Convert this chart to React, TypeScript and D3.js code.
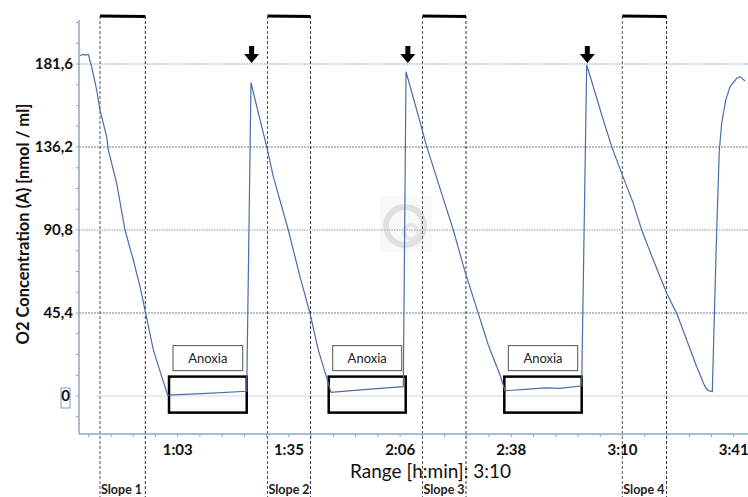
import React from 'react';
import * as d3 from 'd3';

// ---- Data (time in minutes, O2 in nmol/ml) ----
const timeMin = [
  35.44, 36.5, 37.0, 37.79, 38.76, 40.18, 41.12, 43.02, 43.48, 45.86, 48.22, 50.58, 52.49, 54.11, 56.27, 58.65, 60.36,
  71.53, 82.81, 84.03, 86.59, 88.49, 90.37, 94.63, 97.95, 100.79, 103.15, 105.71, 106.76,
  117.0, 127.31, 128.08, 132.05, 133.96, 137.74, 141.52, 144.84, 148.62, 151.46, 154.79, 156.21,
  161.89, 167.58, 171.84, 178.0, 179.42, 181.3, 184.14, 186.53, 189.37, 192.67, 195.05, 198.35, 202.16, 205.0,
  207.84, 210.68, 213.04, 213.98, 215.12, 215.69, 216.37, 217.11, 217.79, 218.93, 220.15, 222.05, 223.0, 224.41,
];
const o2Values = [
  186.3, 186.9, 186.5, 186.9, 180.1, 167.4, 156.4, 141.8, 134.6, 116.3, 90.8, 74.4, 59.8, 45.2, 25.2, 10.6, 0.5,
  1.4, 2.6, 171.4, 151.0, 136.4, 120.0, 90.8, 65.3, 45.2, 25.2, 8.8, 2.0,
  3.6, 5.1, 177.4, 150.0, 136.4, 113.6, 90.8, 68.0, 45.2, 27.9, 11.5, 2.9,
  3.6, 4.4, 4.2, 5.6, 181.1, 169.2, 151.0, 136.4, 121.8, 105.4, 90.8, 74.4, 56.2, 45.2,
  30.6, 16.0, 5.1, 2.9, 2.4, 43.4, 90.8, 134.6, 149.2, 161.9, 169.2, 173.8, 174.7, 172.3,
];

const yTickValues = [0, 45.4, 90.8, 136.2, 181.6];
const yTickLabels = ['0', '45,4', '90,8', '136,2', '181,6'];
const xTickValues = [63.2, 94.8, 126.4, 158.0, 189.6, 221.2];
const xTickLabels = ['1:03', '1:35', '2:06', '2:38', '3:10', '3:41'];

const slopeStarts = [41.12, 88.72, 132.76, 189.54];
const slopeEnds = [54.0, 100.94, 145.12, 202.1];
const slopeLabels = ['Slope 1', 'Slope 2', 'Slope 3', 'Slope 4'];

const anoxiaStarts = [60.73, 106.11, 156.01];
const anoxiaEnds = [82.81, 127.99, 178.0];
const anoxiaTop = 10.6;
const anoxiaBottom = -9.1;
const anoxiaLabel = 'Anoxia';

const arrowTimes = [84.2, 128.6, 179.6];

const xTitle = 'Range [h:min]: 3:10';
const yTitle = 'O2 Concentration (A) [nmol / ml]';

// ---- Layout ----
const W = 748;
const H = 497;
const left = 79;
const right = 748;
const top = 20;
const bottom = 434;

export default function App() {
  const x = d3.scaleLinear().domain([35.15, 225.26]).range([left, right]);
  const y = d3.scaleLinear().domain([-20.8, 205.7]).range([bottom, top]);

  const pts: [number, number][] = timeMin.map((t, i) => [t, o2Values[i]]);
  const line = d3
    .line<[number, number]>()
    .x((d) => x(d[0]))
    .y((d) => y(d[1]));

  const minorX = d3.range(37.92, 225.3, 6.32);
  const minorY = d3.range(-11.35, 205, 11.35);
  const font = 'Lato, "Open Sans", sans-serif';

  return (
    <svg
      width={W}
      height={H}
      style={{ position: 'absolute', left: 0, top: 0, background: '#fff' }}
      fontFamily={font}
    >
      <rect x={0} y={0} width={W} height={H} fill="#fff" />

      {/* watermark */}
      <rect x={380} y={196} width={52} height={56} fill="#f8f8f8" />
      <circle cx={405} cy={226} r={19} fill="none" stroke="#e0e0e0" strokeWidth={6} />
      <circle cx={411} cy={232} r={7} fill="none" stroke="#e6e6e6" strokeWidth={4} />

      {/* gridlines */}
      {yTickValues.map((v, i) =>
        v === 0 ? (
          <line key={i} x1={97} x2={right} y1={y(v)} y2={y(v)} stroke="#d6d6d6" strokeWidth={1} />
        ) : (
          <line
            key={i}
            x1={left}
            x2={right}
            y1={y(v)}
            y2={y(v)}
            stroke={i % 2 === 0 ? '#a9bcd8' : '#6b7d98'}
            strokeWidth={i % 2 === 0 ? 1.6 : 1}
            strokeDasharray={i % 2 === 0 ? '1.5,1' : '2,1'}
          />
        )
      )}

      {/* slope windows */}
      {slopeStarts.map((s, i) => (
        <g key={i}>
          <line x1={x(s)} x2={x(s)} y1={16} y2={H} stroke="#555" strokeWidth={1} strokeDasharray="3,2" />
          <line x1={x(slopeEnds[i])} x2={x(slopeEnds[i])} y1={16} y2={H} stroke="#333" strokeWidth={1} strokeDasharray="3,2" />
          <line x1={x(s)} x2={x(slopeEnds[i])} y1={16} y2={16.5} stroke="#000" strokeWidth={3} />
          <text x={x(s) + 1} y={494} fontSize={12.5} fontWeight={700} fill="#222">
            {slopeLabels[i]}
          </text>
        </g>
      ))}

      {/* anoxia boxes */}
      {anoxiaStarts.map((s, i) => (
        <g key={i}>
          <rect
            x={x(s)}
            y={y(anoxiaTop)}
            width={x(anoxiaEnds[i]) - x(s)}
            height={y(anoxiaBottom) - y(anoxiaTop)}
            fill="none"
            stroke="#000"
            strokeWidth={2.5}
          />
          <rect
            x={x(s) + 4}
            y={y(anoxiaTop) - 31}
            width={x(anoxiaEnds[i]) - x(s) - 8}
            height={25}
            fill="#fff"
            stroke="#555"
            strokeWidth={1}
          />
          <text
            x={(x(s) + x(anoxiaEnds[i])) / 2}
            y={y(anoxiaTop) - 14}
            textAnchor="middle"
            fontSize={13}
            fill="#222"
          >
            {anoxiaLabel}
          </text>
        </g>
      ))}

      {/* data line */}
      <path d={line(pts) ?? ''} fill="none" stroke="#4a6ea8" strokeWidth={1.2} />

      {/* arrows */}
      {arrowTimes.map((t, i) => {
        const cx = x(t);
        const tip = y(181.6) - 1;
        return (
          <path
            key={i}
            d={`M${cx - 2.5},${tip - 17} L${cx + 2.5},${tip - 17} L${cx + 2.5},${tip - 9} L${cx + 7.5},${tip - 9} L${cx},${tip} L${cx - 7.5},${tip - 9} L${cx - 2.5},${tip - 9} Z`}
            fill="#000"
          />
        );
      })}

      {/* axes */}
      <line x1={left} x2={left} y1={top} y2={bottom} stroke="#8fa6c6" strokeWidth={1.5} />
      <line x1={left} x2={right} y1={bottom} y2={bottom} stroke="#8fa6c6" strokeWidth={1.5} />
      {minorY.map((v, i) => (
        <line key={i} x1={left - 3} x2={left} y1={y(v)} y2={y(v)} stroke="#8fa6c6" strokeWidth={1} />
      ))}
      {minorX.map((t, i) => (
        <line key={i} x1={x(t)} x2={x(t)} y1={bottom} y2={bottom + 3} stroke="#8fa6c6" strokeWidth={1} />
      ))}

      {/* y tick labels */}
      {yTickValues.map((v, i) => (
        <g key={i}>
          {v === 0 && <rect x={61} y={y(v) - 8} width={9} height={20} fill="none" stroke="#7f9cc6" strokeWidth={1} />}
          <text
            x={v === 0 ? 65.5 : 73}
            y={y(v)}
            dy="0.36em"
            textAnchor={v === 0 ? 'middle' : 'end'}
            fontSize={15}
            fontWeight={700}
            fill="#111"
          >
            {yTickLabels[i]}
          </text>
        </g>
      ))}

      {/* x tick labels */}
      {xTickValues.map((t, i) => (
        <text key={i} x={x(t)} y={455} textAnchor="middle" fontSize={15} fontWeight={700} fill="#111">
          {xTickLabels[i]}
        </text>
      ))}

      {/* titles */}
      <text x={350} y={477.5} fontSize={19} fill="#111">
        {xTitle}
      </text>
      <text
        transform={`translate(28.5,224) rotate(-90)`}
        textAnchor="middle"
        fontSize={16.5}
        fontWeight={700}
        fill="#111"
      >
        {yTitle}
      </text>
    </svg>
  );
}
